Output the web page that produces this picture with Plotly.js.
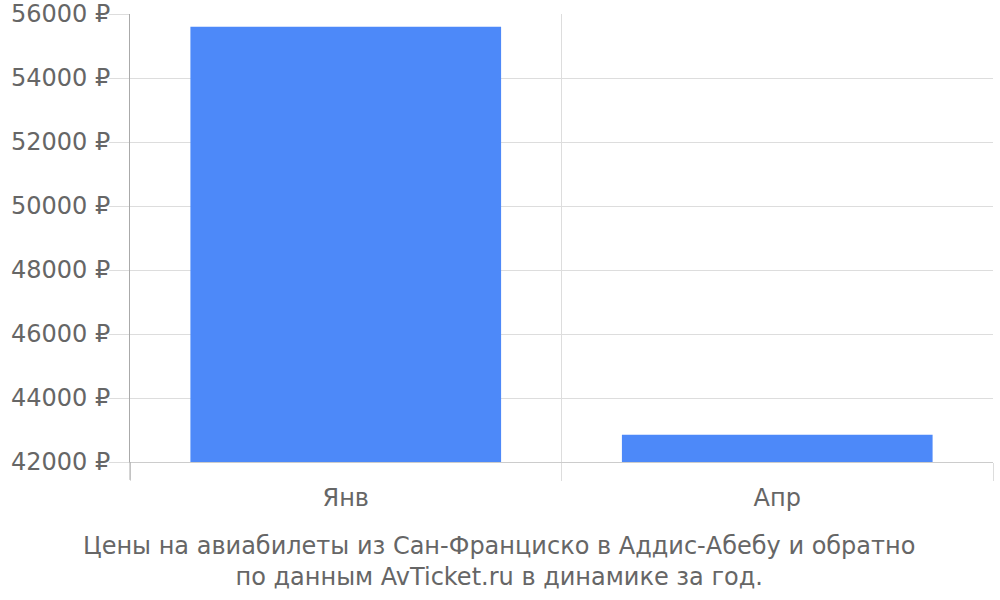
<!DOCTYPE html>
<html>
<head>
<meta charset="utf-8">
<script src="https://cdn.plot.ly/plotly-3.0.1.min.js"></script>
<style>
  html, body { margin: 0; padding: 0; background: #fff; }
  #chart { width: 1000px; height: 600px; }
</style>
</head>
<body>
<div id="chart"></div>
<script>
// месяцы и цены (руб.)
const months = ["Янв", "Апр"];
const prices = [55600, 42850];
const yTicks = [42000, 44000, 46000, 48000, 50000, 52000, 54000, 56000];
const yTickText = yTicks.map(v => v + " ₽");

const fontFam = "DejaVu Sans, sans-serif";
const textGrey = "#666666";

const bars = {
  x: months,
  y: prices,
  type: "bar",
  marker: { color: "#4d89f9" },
  hoverinfo: "x+y"
};

const layout = {
  width: 1000,
  height: 600,
  margin: { l: 130, r: 7, t: 14, b: 138 },
  paper_bgcolor: "#fff",
  plot_bgcolor: "#fff",
  bargap: 0.28,
  showlegend: false,
  font: { family: fontFam, size: 24, color: textGrey },
  xaxis: {
    type: "category",
    tickson: "boundaries",
    ticks: "outside",
    ticklen: 18,
    tickcolor: "#dddddd",
    tickwidth: 1,
    ticklabelstandoff: 14,
    showgrid: true,
    gridcolor: "#dddddd",
    showline: true,
    linecolor: "#cccccc",
    tickfont: { family: fontFam, size: 24, color: textGrey },
    fixedrange: true
  },
  yaxis: {
    range: [42000, 56000],
    tickvals: yTicks,
    ticktext: yTickText,
    ticks: "outside",
    ticklen: 20,
    tickcolor: "#dddddd",
    ticklabelstandoff: -6,
    showgrid: true,
    gridcolor: "#dddddd",
    showline: true,
    linecolor: "#aaaaaa",
    zeroline: false,
    tickfont: { family: fontFam, size: 24, color: textGrey },
    fixedrange: true
  },
  shapes: [
    // продолжение левой оси вниз
    { type: "line", xref: "paper", yref: "paper", x0: 0, x1: 0, y0: 0, y1: -0.04,
      line: { color: "#aaaaaa", width: 1 } }
  ],
  annotations: [
    {
      xref: "paper", yref: "paper",
      x: 0.428, y: -0.222,
      xanchor: "center", yanchor: "middle",
      showarrow: false,
      align: "center",
      text: "Цены на авиабилеты из Сан-Франциско в Аддис-Абебу и обратно<br>по данным AvTicket.ru в динамике за год.",
      font: { family: fontFam, size: 24, color: textGrey }
    }
  ]
};

Plotly.newPlot("chart", [bars], layout, { displayModeBar: false, staticPlot: true });
</script>
</body>
</html>
